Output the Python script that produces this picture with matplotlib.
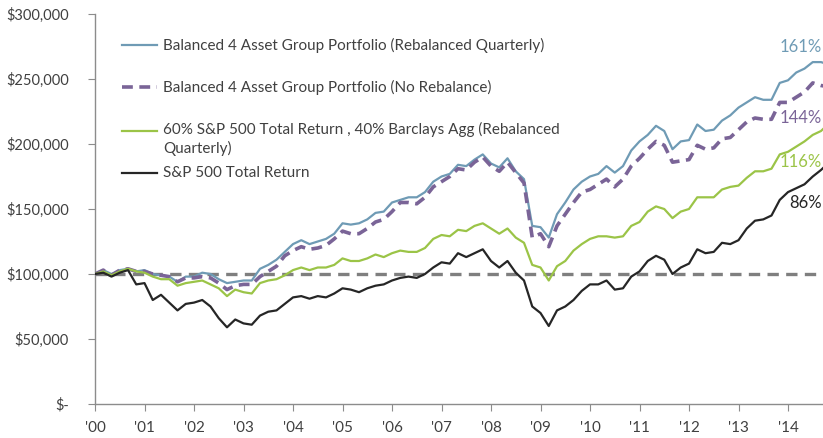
import matplotlib
matplotlib.use("Agg")
import matplotlib.pyplot as plt
import numpy as np
from matplotlib.ticker import FuncFormatter

# values in $ thousands, read every two months from Jan 2000
rebal_q = [100, 103, 100, 103, 104, 102, 103, 100, 99, 98, 94, 98, 98, 101, 100, 96, 93, 94, 95, 95,
           104, 107, 111, 117, 123, 126, 123, 125, 127, 131, 139, 138, 139, 142, 147, 148, 155, 157, 159, 159,
           163, 171, 175, 177, 184, 183, 188, 192, 185, 182, 189, 179, 173, 137, 136, 128, 146, 155, 165, 171,
           175, 177, 183, 178, 183, 195, 202, 207, 214, 210, 196, 202, 203, 215, 210, 211, 218, 222, 228, 232,
           236, 234, 234, 247, 249, 255, 258, 263, 263, 261]
no_rebal = [100, 103, 99, 103, 104, 102, 102, 100, 99, 98, 94, 97, 97, 98, 97, 93, 88, 91, 92, 92,
            98, 102, 106, 114, 118, 121, 119, 120, 122, 127, 133, 131, 131, 135, 140, 142, 148, 155, 155, 154,
            159, 167, 171, 175, 181, 180, 186, 190, 183, 179, 186, 178, 170, 128, 131, 121, 137, 146, 155, 163,
            165, 169, 173, 167, 173, 183, 189, 196, 202, 199, 186, 187, 188, 199, 196, 197, 204, 205, 211, 217,
            220, 219, 219, 232, 232, 236, 240, 247, 245, 244]
sixty_forty = [100, 102, 99, 102, 104, 102, 101, 98, 96, 96, 91, 93, 94, 95, 92, 89, 83, 88, 86, 85,
               93, 95, 96, 99, 103, 105, 103, 105, 105, 107, 112, 110, 110, 112, 115, 113, 116, 118, 117, 117,
               120, 127, 130, 129, 134, 133, 137, 139, 135, 131, 135, 128, 124, 107, 105, 95, 106, 110, 118, 123,
               127, 129, 129, 128, 129, 137, 140, 148, 152, 150, 143, 148, 150, 159, 159, 159, 165, 167, 168, 174,
               179, 179, 181, 192, 194, 198, 202, 207, 210, 216]
sp500 = [100, 101, 98, 101, 103, 92, 93, 80, 84, 78, 72, 77, 78, 80, 75, 66, 59, 65, 62, 61,
         68, 71, 72, 77, 82, 83, 81, 83, 82, 85, 89, 88, 86, 89, 91, 92, 95, 97, 98, 97,
         100, 105, 109, 108, 116, 113, 116, 119, 110, 105, 110, 101, 95, 75, 70, 60, 72, 75, 80, 87,
         92, 92, 95, 88, 89, 98, 102, 110, 114, 111, 100, 105, 108, 119, 116, 117, 124, 123, 126, 135,
         141, 142, 145, 157, 163, 166, 169, 175, 180, 186]

labels = ['Balanced 4 Asset Group Portfolio (Rebalanced Quarterly)',
          'Balanced 4 Asset Group Portfolio (No Rebalance)',
          '60% S&P 500 Total Return , 40% Barclays Agg (Rebalanced\nQuarterly)',
          'S&P 500 Total Return']
end_labels = ['161%', '144%', '116%', '86%']
year_ticks = list(range(2000, 2015))
year_labels = ["'%02d" % (y % 100) for y in year_ticks]

dates = 2000 + np.arange(len(sp500)) / 6.0

colors = ['#6f9bb5', '#7a6497', '#9bc447', '#262626']
styles = [dict(lw=1.6), dict(lw=2.6, dashes=(3.0, 1.8)), dict(lw=1.6), dict(lw=1.6)]
series = [rebal_q, no_rebal, sixty_forty, sp500]

plt.rcParams['font.family'] = ['Lato', 'DejaVu Sans']
fig = plt.figure(figsize=(8.23, 4.38), dpi=100)
ax = fig.add_axes([95 / 823, 34 / 438, 1 - 95 / 823, 390 / 438])

ax.axhline(100000, color='#7f7f7f', lw=2.4, dashes=(3.4, 2.2), zorder=1)
for vals, c, st in zip(series, colors, styles):
    ax.plot(dates, np.array(vals) * 1000, color=c, zorder=3, **st)

ax.set_xlim(2000, 2014.707)
ax.set_ylim(0, 300000)
ax.set_yticks(range(0, 300001, 50000))
ax.yaxis.set_major_formatter(FuncFormatter(lambda v, p: '$-' if v == 0 else '${:,.0f}'.format(v)))
ax.set_xticks(year_ticks)
ax.set_xticklabels(year_labels)

for s in ['top', 'right']:
    ax.spines[s].set_visible(False)
for s in ['left', 'bottom']:
    ax.spines[s].set_color('#8c8c8c')
    ax.spines[s].set_linewidth(1.0)
ax.tick_params(axis='y', length=5, color='#8c8c8c', pad=14, labelsize=10.5, labelcolor='#404040')
ax.tick_params(axis='x', length=5, color='#8c8c8c', pad=7, labelsize=11, labelcolor='#404040')

# end-of-period total return labels, right-aligned at the plot's edge
end_y = [275000, 220000, 186000, 155000]
for y, t, c in zip(end_y, end_labels, colors):
    ax.text(0.998, y, t, color=c, fontsize=12, va='center', ha='right',
            transform=ax.get_yaxis_transform())

# legend drawn by hand (uneven row spacing, as in the original)
for yy, lab, c, st in zip([45, 87, 131, 173], labels, colors, styles):
    yf = (404 - yy) / 390
    x0 = (122 - 95) / 728
    x1 = (157 - 95) / 728
    ax.plot([x0, x1], [yf, yf], color=c, transform=ax.transAxes, clip_on=False, **st)
    if '\n' in lab:
        ax.text((163 - 95) / 728, yf + 0.023, lab, transform=ax.transAxes, fontsize=11,
                color='#404040', va='top', ha='left', linespacing=1.35)
    else:
        ax.text((163 - 95) / 728, yf, lab, transform=ax.transAxes, fontsize=11,
                color='#404040', va='center', ha='left')

fig.savefig('out.png', dpi=100)
